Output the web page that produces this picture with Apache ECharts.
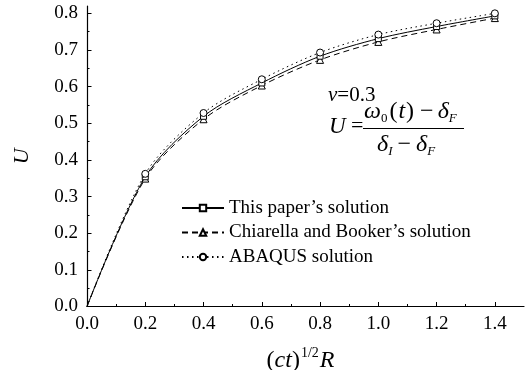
<!DOCTYPE html>
<html>
<head>
<meta charset="utf-8">
<script src="https://cdn.jsdelivr.net/npm/echarts@6/dist/echarts.min.js"></script>
<style>html,body{margin:0;padding:0;background:#fff}#c{width:525px;height:370px}</style>
</head>
<body>
<div id="c"></div>
<script>
var xValues = [0.0, 0.2, 0.4, 0.6, 0.8, 1.0, 1.2, 1.4];
var thisPaper = [0.0, 0.354, 0.519, 0.610, 0.683, 0.731, 0.764, 0.793];
var chiarella = [0.0, 0.349, 0.511, 0.603, 0.673, 0.722, 0.756, 0.787];
var abaqus = [0.0, 0.362, 0.528, 0.620, 0.693, 0.742, 0.773, 0.800];
var xMajorTicks = [0, 0.2, 0.4, 0.6, 0.8, 1.0, 1.2, 1.4];
var xMinorTicks = [0.1, 0.3, 0.5, 0.7, 0.9, 1.1, 1.3];
var yMajorTicks = [0, 0.1, 0.2, 0.3, 0.4, 0.5, 0.6, 0.7, 0.8];
var yMinorTicks = [0.05, 0.15, 0.25, 0.35, 0.45, 0.55, 0.65, 0.75];
var seriesNames = ['This paper\u2019s solution', 'Chiarella and Booker\u2019s solution', 'ABAQUS solution'];

var FONT = 'Liberation Serif';
function mk(vals) {
  return xValues.map(function (x, i) {
    var d = { value: [x, vals[i]] };
    if (i === 0) d.symbol = 'none';
    return d;
  });
}
var chart = echarts.init(document.getElementById('c'));
var lineStyleAxis = { color: '#000', width: 1.2 };
chart.setOption({
  animation: false,
  backgroundColor: '#fff',
  grid: { left: 87, right: 1, top: 6, bottom: 63.5, containLabel: false, outerBoundsMode: 'none' },
  legend: {
    orient: 'vertical', left: 176, top: 193,
    itemWidth: 42, itemHeight: 8, itemGap: 4.5,
    textStyle: { fontFamily: FONT, fontSize: 19, color: '#000', lineHeight: 20 },
    data: seriesNames
  },
  xAxis: [{
    type: 'value', min: 0, max: 1.5, interval: 0.1,
    axisLine: { show: true, lineStyle: lineStyleAxis }, splitLine: { show: false },
    axisTick: { show: true, inside: true, length: 4.5, lineStyle: { color: '#000', width: 1 }, customValues: xMajorTicks },
    axisLabel: { customValues: xMajorTicks, formatter: function (v) { return v.toFixed(1); },
      fontFamily: FONT, fontSize: 19, color: '#000', margin: 8 },
    name: '{n|(}{i|ct}{n|)}{s|1/2}{i|R}',
    nameLocation: 'middle', nameGap: 40,
    nameTextStyle: { padding: [0, 10, 0, 0], rich: {
      n: { fontFamily: FONT, fontSize: 24, color: '#000' },
      i: { fontFamily: FONT, fontSize: 24, fontStyle: 'italic', color: '#000' },
      s: { fontFamily: FONT, fontSize: 14, color: '#000', padding: [0, 1, 14, 1] }
    } }
  }, {
    type: 'value', min: 0, max: 1.5, position: 'bottom',
    axisLine: { show: true, lineStyle: { color: '#000', opacity: 0 } }, splitLine: { show: false },
    axisTick: { show: true, inside: true, length: 2.5, lineStyle: { color: '#000', width: 1, opacity: 1 }, customValues: xMinorTicks },
    axisLabel: { show: false }
  }],
  yAxis: [{
    type: 'value', min: 0, max: 0.82, interval: 0.1,
    axisLine: { show: true, lineStyle: lineStyleAxis }, splitLine: { show: false },
    axisTick: { show: true, inside: true, length: 4.5, lineStyle: { color: '#000', width: 1 }, customValues: yMajorTicks },
    axisLabel: { customValues: yMajorTicks, formatter: function (v) { return v.toFixed(1); },
      fontFamily: FONT, fontSize: 19, color: '#000', margin: 9 },
    name: 'U', nameLocation: 'middle', nameGap: 54, nameRotate: 90,
    nameTextStyle: { fontFamily: FONT, fontSize: 22, fontStyle: 'italic', color: '#000' }
  }, {
    type: 'value', min: 0, max: 0.82, position: 'left',
    axisLine: { show: true, lineStyle: { color: '#000', opacity: 0 } }, splitLine: { show: false },
    axisTick: { show: true, inside: true, length: 2.5, lineStyle: { color: '#000', width: 1, opacity: 1 }, customValues: yMinorTicks },
    axisLabel: { show: false }
  }],
  series: [{
    name: seriesNames[0], type: 'line', data: mk(thisPaper),
    smooth: 0.3,
    symbol: 'rect', symbolSize: 6,
    lineStyle: { color: '#000', width: 1, type: 'solid' },
    itemStyle: { color: '#fff', borderColor: '#000', borderWidth: 1 }, z: 3
  }, {
    name: seriesNames[1], type: 'line', data: mk(chiarella),
    smooth: 0.3,
    symbol: 'triangle', symbolSize: 7,
    lineStyle: { color: '#000', width: 1, type: [6, 4] },
    itemStyle: { color: '#fff', borderColor: '#000', borderWidth: 1 }, z: 2
  }, {
    name: seriesNames[2], type: 'line', data: mk(abaqus),
    smooth: 0.3,
    symbol: 'circle', symbolSize: 7,
    lineStyle: { color: '#000', width: 1, type: [1.5, 3.5] },
    itemStyle: { color: '#fff', borderColor: '#000', borderWidth: 1 }, z: 4
  }],
  graphic: [{
    type: 'text', left: 328, top: 85,
    style: { text: '{i|\u03bd}{n|=0.3}', rich: {
      i: { fontFamily: FONT, fontSize: 21, fontStyle: 'italic', fill: '#000' },
      n: { fontFamily: FONT, fontSize: 21, fill: '#000' } } }
  }, {
    type: 'text', left: 329, top: 115,
    style: { text: '{i|U}{n| =}', rich: {
      i: { fontFamily: FONT, fontSize: 23, fontStyle: 'italic', fill: '#000' },
      n: { fontFamily: FONT, fontSize: 22, fill: '#000' } } }
  }, {
    type: 'text', left: 364, top: 100,
    style: { text: '{i|\u03c9}{s|0}{n|(}{i|t}{n|)}{m|\u2212}{i|\u03b4}{si|F}', rich: {
      i: { fontFamily: FONT, fontSize: 24, fontStyle: 'italic', fill: '#000', verticalAlign: 'top' },
      n: { fontFamily: FONT, fontSize: 24, fill: '#000', verticalAlign: 'top', padding: [0, 1, 0, 1] },
      m: { fontFamily: FONT, fontSize: 24, fill: '#000', verticalAlign: 'top', padding: [0, 4, 0, 5] },
      s: { fontFamily: FONT, fontSize: 13, fill: '#000', padding: [12, 1, 0, 0], verticalAlign: 'top' },
      si: { fontFamily: FONT, fontSize: 13, fontStyle: 'italic', fill: '#000', padding: [12, 0, 0, 0], verticalAlign: 'top' } } }
  }, {
    type: 'line', shape: { x1: 363, y1: 128.5, x2: 464, y2: 128.5 },
    style: { stroke: '#000', lineWidth: 1 }
  }, {
    type: 'text', left: 377, top: 133,
    style: { text: '{i|\u03b4}{si|I}{m|\u2212}{i|\u03b4}{si|F}', rich: {
      i: { fontFamily: FONT, fontSize: 24, fontStyle: 'italic', fill: '#000', verticalAlign: 'top' },
      m: { fontFamily: FONT, fontSize: 24, fill: '#000', verticalAlign: 'top', padding: [0, 5, 0, 5] },
      si: { fontFamily: FONT, fontSize: 13, fontStyle: 'italic', fill: '#000', padding: [12, 0, 0, 0], verticalAlign: 'top' } } }
  }]
});
</script>
</body>
</html>
